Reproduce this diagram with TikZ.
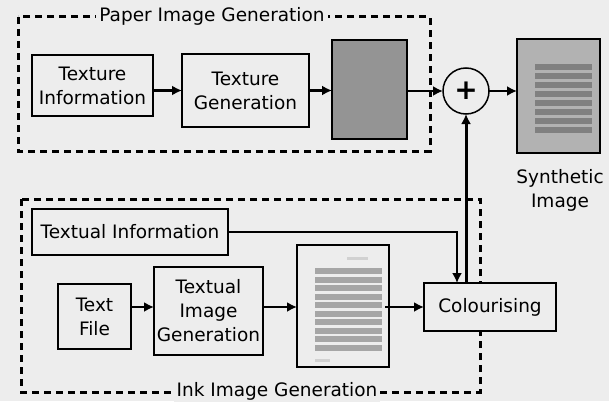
\documentclass[tikz,border=0pt]{standalone}
\usepackage{fontspec}
\setmainfont{DejaVu Sans}
\usetikzlibrary{arrows.meta}
\definecolor{paperbg}{gray}{0.93}

\begin{document}
\begin{tikzpicture}[x=1pt, y=-1pt,
    every node/.style={font=\fontsize{18.5}{24}\selectfont, align=center, inner sep=0pt, outer sep=0pt},
    block/.style={draw, line width=2pt, fill=paperbg},
    frame/.style={line width=3pt, dash pattern=on 7pt off 5pt},
    flow/.style={line width=2.4pt, -{Latex[length=10pt, width=10pt]}}]
			\fill[paperbg] (0,0) rectangle (609,401);
			\useasboundingbox (0,0) rectangle (609,401);
			
			% dashed groups
			\draw[frame] (18,17) rectangle (430,151);
			\draw[frame] (21,199) rectangle (480,392);
			\node[fill=paperbg, inner xsep=3pt, inner ysep=2pt] (ptitle) at (212,16) {Paper Image Generation};
			\node[fill=paperbg, inner xsep=3pt, inner ysep=2pt] (ititle) at (277,391) {Ink Image Generation};
			
			% paper image
			\node[block, minimum width=121, minimum height=61] (texinfo) at (92.5,85.5) {Texture\\Information};
			\node[block, minimum width=127, minimum height=73] (texgen) at (245.5,90.5) {Texture\\Generation};
			\node[block, fill=black!42, minimum width=75, minimum height=99] (paper) at (369.5,89.5) {};
			
			% sum and result
			\node[circle, draw, line width=1.5pt, fill=paperbg, minimum size=46] (plus) at (466,91) {\fontsize{28}{28}\selectfont\bfseries +};
			\node[block, fill=black!30, minimum width=83, minimum height=114] (synth) at (558.5,96) {};
			\foreach \y in {64,73,...,130}
				\fill[black!50] (535,\y) rectangle (592,\y+6);
			\node (synthlbl) at (560,190.5) {Synthetic\\Image};
			
			% ink image
			\node[block, minimum width=196, minimum height=46] (txtinfo) at (130,232) {Textual Information};
			\node[block, minimum width=73, minimum height=65] (txtfile) at (94.5,316.5) {Text\\File};
			\node[block, minimum width=109, minimum height=88] (txtgen) at (208.5,311) {Textual\\Image\\Generation};
			\node[block, minimum width=92, minimum height=122] (ink) at (343,306) {};
			\fill[black!18] (347,257) rectangle (368,260);
			\foreach \y in {268,276.5,...,345}
				\fill[black!35] (315,\y) rectangle (382,\y+6);
			\fill[black!18] (315,359) rectangle (330,362);
			\node[block, minimum width=132, minimum height=48] (colour) at (490,307) {Colourising};
			
			% connectors
			\draw[flow] (texinfo.east |- texgen.west) -- (texgen.west);
			\draw[flow] (texgen.east) -- (texgen.east -| paper.west);
			\draw[flow] (paper.east |- plus.west) -- (plus.west);
			\draw[flow] (plus.east) -- (plus.east -| synth.west);
			\draw[flow] ([yshift=4pt]txtgen.west -| txtfile.east) -- ([yshift=4pt]txtgen.west);
			\draw[flow] ([yshift=4pt]txtgen.east) -- ([yshift=4pt]txtgen.east -| ink.west);
			\draw[flow] ([xshift=-4pt]ink.east |- colour.west) -- (colour.west);
			\coordinate (tin) at (457,283);
			\draw[line width=1.8pt, -{Latex[length=10pt, width=10pt]}] (txtinfo.east) -| (tin);
			\draw[line width=3pt, -{Latex[length=10pt, width=10pt]}] (plus.south |- colour.north) -- (plus.south);
		\end{tikzpicture}
\end{document}
